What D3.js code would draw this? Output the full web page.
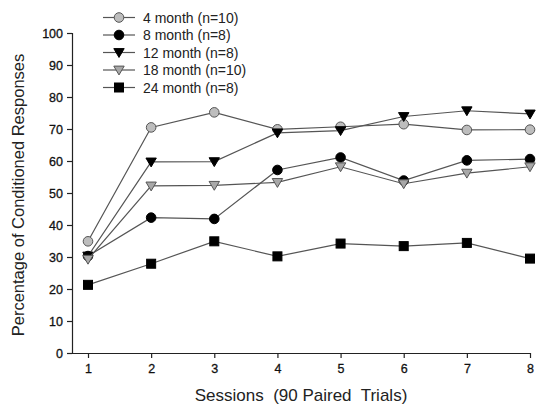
<!DOCTYPE html>
<html><head><meta charset="utf-8">
<script src="https://cdn.jsdelivr.net/npm/d3@7"></script>
<style>body{margin:0;background:#fff}svg{display:block}text{font-family:"Liberation Sans",Arial,sans-serif}</style>
</head><body><svg id="c" width="536" height="408"></svg>
<script>
const sessions = [1,2,3,4,5,6,7,8];
const seriesNames = ["4 month (n=10)","8 month (n=8)","12 month (n=8)","18 month (n=10)","24 month (n=8)"];
const m4  = [34.9,70.5,75.2,69.9,70.7,71.5,69.7,69.8];
const m8  = [30.3,42.3,41.9,57.2,61.1,53.9,60.2,60.6];
const m12 = [30.3,59.7,59.8,68.8,69.5,73.9,75.7,74.7];
const m18 = [29.3,52.2,52.4,53.3,58.2,52.9,56.2,58.2];
const m24 = [21.3,27.9,34.9,30.2,34.2,33.4,34.4,29.5];
const yTicks = [0,10,20,30,40,50,60,70,80,90,100];
const markerTypes = ["circle","circle","triangle","triangle","square"];
const fills = ["#bdbdbd","#000","#000","#a8a8a8","#000"];
const strokes = ["#555","#000","#000","#555","#000"];
const allSeries = [m4,m8,m12,m18,m24];

const svg = d3.select("#c");
const x = d3.scaleLinear().domain([1,8]).range([88,530]);
const y = d3.scaleLinear().domain([0,100]).range([353,33]);

// axes
const yAxis = svg.append("g").attr("transform","translate(72,0)")
  .call(d3.axisLeft(y).tickValues(yTicks).tickSize(5).tickPadding(4));
const xAxis = svg.append("g").attr("transform","translate(0,353)")
  .call(d3.axisBottom(x).tickValues(sessions).tickSize(5).tickPadding(6).tickFormat(d3.format("d")));
xAxis.select(".domain").attr("d","M72,0.5H531");
[yAxis,xAxis].forEach(g=>{
  g.selectAll("path,line").attr("stroke","#222").attr("stroke-width",1.2);
  g.selectAll("text").attr("font-size",12.5).attr("fill","#111").attr("stroke","#111").attr("stroke-width",0.3);
});

svg.append("text").attr("transform","translate(24,195) rotate(-90)")
  .attr("text-anchor","middle").attr("font-size",16.5).attr("fill","#222")
  .text("Percentage of Conditioned Responses");
svg.append("text").attr("x",301).attr("y",401).attr("text-anchor","middle")
  .attr("font-size",17).attr("fill","#222").style("white-space","pre")
  .text("Sessions  (90 Paired  Trials)");

function drawMarker(g, type, cx, cy, fill, stroke){
  if(type==="circle"){
    g.append("circle").attr("cx",cx).attr("cy",cy).attr("r",4.8).attr("fill",fill).attr("stroke",stroke).attr("stroke-width",1);
  } else if(type==="triangle"){
    const s=5.2;
    g.append("path").attr("d",`M${cx-s},${cy-s*0.75}L${cx+s},${cy-s*0.75}L${cx},${cy+s*0.95}Z`)
      .attr("fill",fill).attr("stroke",stroke).attr("stroke-width",1);
  } else {
    g.append("rect").attr("x",cx-4.5).attr("y",cy-4.5).attr("width",9).attr("height",9)
      .attr("fill",fill).attr("stroke",stroke).attr("stroke-width",1);
  }
}

const line = d3.line().x((d,i)=>x(sessions[i])).y(d=>y(d));
allSeries.forEach((vals,k)=>{
  const g = svg.append("g");
  g.append("path").attr("d",line(vals)).attr("fill","none").attr("stroke","#555").attr("stroke-width",1.2);
  vals.forEach((v,i)=>drawMarker(g, markerTypes[k], x(sessions[i]), y(v), fills[k], strokes[k]));
});

// legend
const lg = svg.append("g");
seriesNames.forEach((name,k)=>{
  const ly = 17.5 + k*17.5;
  lg.append("line").attr("x1",103).attr("x2",135).attr("y1",ly).attr("y2",ly).attr("stroke","#555").attr("stroke-width",1.2);
  drawMarker(lg, markerTypes[k], 119, ly, fills[k], strokes[k]);
  lg.append("text").attr("x",143).attr("y",ly+5).attr("font-size",14).attr("fill","#222").text(name);
});
</script></body></html>
